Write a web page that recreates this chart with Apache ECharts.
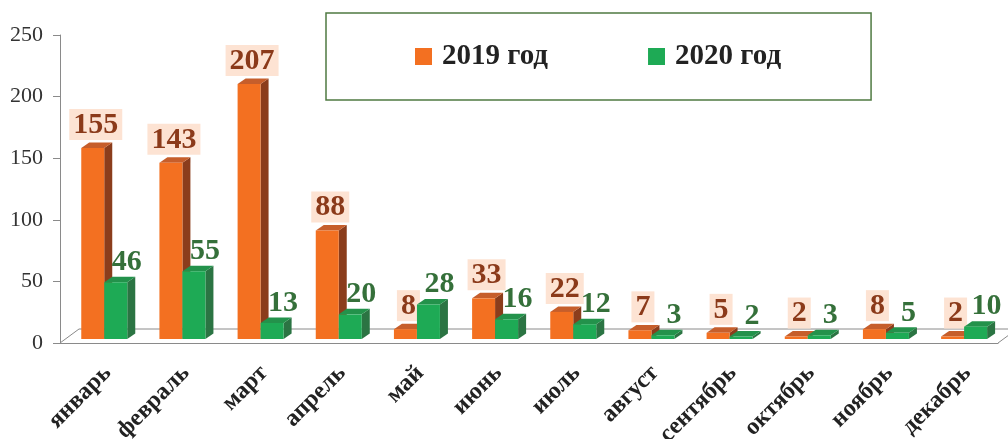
<!DOCTYPE html>
<html>
<head>
<meta charset="utf-8">
<script src="https://cdn.jsdelivr.net/npm/echarts@6/dist/echarts.min.js"></script>
<style>
  html, body { margin: 0; padding: 0; background: #fff; }
  #chart { width: 1008px; height: 439px; }
</style>
</head>
<body>
<div id="chart"></div>
<script>
var months = ['январь', 'февраль', 'март', 'апрель', 'май', 'июнь', 'июль', 'август', 'сентябрь', 'октябрь', 'ноябрь', 'декабрь']
var data2019 = [155, 143, 207, 88, 8, 33, 22, 7, 5, 2, 8, 2]
var data2020 = [46, 55, 13, 20, 28, 16, 12, 3, 2, 3, 5, 10]
var yMin = 0
var yMax = 250
var yStep = 50

var serif = '"Liberation Serif", "Times New Roman", serif'

// fake 3d: front face + side + top
function bar3d(shift, colors, label) {
  return function(params, api) {
    var i = api.value(0)
    var v = api.value(1)
    var base = api.coord([i, 0])
    var top = api.coord([i, v])
    var bw = api.size([1, 0])[0]
    var w = bw * 0.294
    var x0 = base[0] + shift * bw
    var yb = base[1] - 4
    var yt = top[1] - 4
    var dx = 8
    var dy = -5.5
    var children = [
      {
        type: 'polygon',
        shape: { points: [[x0 + w, yt], [x0 + w + dx, yt + dy], [x0 + w + dx, yb + dy], [x0 + w, yb]] },
        style: { fill: colors.side }
      },
      {
        type: 'polygon',
        shape: { points: [[x0, yt], [x0 + dx, yt + dy], [x0 + w + dx, yt + dy], [x0 + w, yt]] },
        style: { fill: colors.top }
      },
      {
        type: 'rect',
        shape: { x: x0, y: yt, width: w, height: yb - yt },
        style: { fill: colors.front }
      }
    ]
    var txt = {
      type: 'text',
      style: {
        text: String(v),
        x: x0 + w / 2 + label.dx,
        y: yt + label.dy,
        align: 'center',
        verticalAlign: 'bottom',
        font: 'bold 30px ' + serif,
        lineHeight: 30,
        fill: label.color
      }
    }
    if (label.bg) {
      txt.style.backgroundColor = label.bg
      txt.style.padding = [1, 4, 0, 4]
    }
    children.push(txt)
    return { type: 'group', children: children }
  }
}

function floor(params, api) {
  var cs = params.coordSys
  var bx = cs.x
  var by = cs.y + cs.height
  var dx = 19
  var dy = -14
  var ls = { stroke: '#8a8a8a', lineWidth: 1 }
  return {
    type: 'group',
    children: [
      { type: 'line', shape: { x1: bx, y1: by, x2: bx + dx, y2: by + dy }, style: ls },
      { type: 'line', shape: { x1: bx + dx, y1: by + dy, x2: bx + cs.width + dx, y2: by + dy }, style: ls },
      { type: 'line', shape: { x1: bx + cs.width, y1: by, x2: bx + cs.width + dx, y2: by + dy }, style: ls }
    ]
  }
}

var chart = echarts.init(document.getElementById('chart'))
chart.setOption({
  backgroundColor: '#fff',
  animation: false,
  grid: { left: 60, right: 10, top: 35, bottom: 96, containLabel: false, outerBoundsMode: 'none' },
  legend: {
    left: 326,
    top: 13,
    padding: [29, 90, 29, 89],
    itemGap: 100,
    itemWidth: 17,
    itemHeight: 17,
    icon: 'rect',
    borderColor: '#4f7a42',
    borderWidth: 1.5,
    backgroundColor: '#fff',
    textStyle: { fontFamily: serif, fontSize: 29, fontWeight: 'bold', color: '#222', padding: [0, 0, 0, 5] },
    data: ['2019 год', '2020 год']
  },
  xAxis: {
    type: 'category',
    data: months,
    axisLine: { lineStyle: { color: '#8a8a8a' } },
    axisTick: { length: 6, lineStyle: { color: '#8a8a8a' } },
    axisLabel: {
      interval: 0,
      rotate: 45,
      margin: 18,
      verticalAlign: 'top',
      fontFamily: serif,
      fontSize: 24,
      fontWeight: 'bold',
      color: '#222'
    }
  },
  yAxis: {
    type: 'value',
    min: yMin,
    max: yMax,
    interval: yStep,
    axisLine: { show: true, lineStyle: { color: '#8a8a8a' } },
    axisTick: { show: true, length: 7, lineStyle: { color: '#8a8a8a' } },
    splitLine: { show: false },
    axisLabel: { margin: 17, fontFamily: serif, fontSize: 22, color: '#333' }
  },
  series: [
    {
      name: 'floor',
      type: 'custom',
      z: 1,
      silent: true,
      clip: false,
      renderItem: floor,
      data: [[0, 0]]
    },
    {
      name: '2019 год',
      type: 'custom',
      z: 2,
      itemStyle: { color: '#f37021' },
      encode: { x: 0, y: 1 },
      renderItem: bar3d(-0.228, { front: '#f37021', side: '#8b3d1c', top: '#c65e2b' },
        { dx: 3, dy: -8, color: '#8b3a1a', bg: '#fde3d3' }),
      data: data2019.map(function(v, i) { return [i, v] })
    },
    {
      name: '2020 год',
      type: 'custom',
      z: 3,
      itemStyle: { color: '#1eaa55' },
      encode: { x: 0, y: 1 },
      renderItem: bar3d(0.0665, { front: '#1eaa55', side: '#2b7443', top: '#23924b' },
        { dx: 11, dy: -5, color: '#35703a' }),
      data: data2020.map(function(v, i) { return [i, v] })
    }
  ]
})
</script>
</body>
</html>
